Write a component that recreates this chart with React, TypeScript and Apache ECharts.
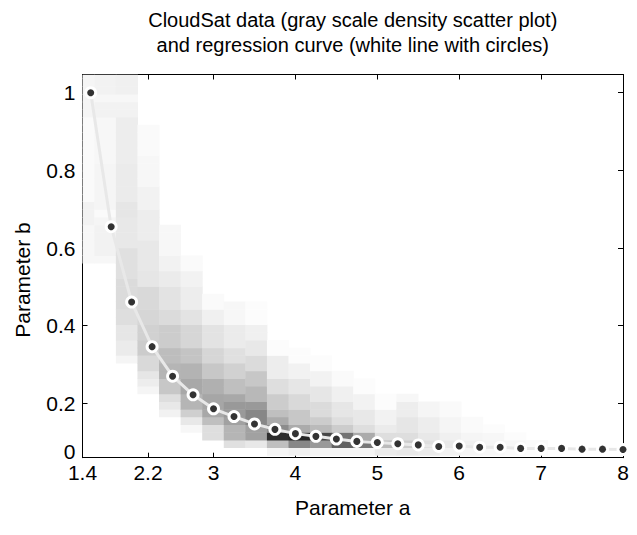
import React, { useEffect, useRef } from "react";
import * as echarts from "echarts";

// Regression curve (Parameter a, Parameter b)
const regA = [1.5, 1.75, 2.0, 2.25, 2.5, 2.75, 3.0, 3.25, 3.5, 3.75, 4.0, 4.25, 4.5, 4.75, 5.0, 5.25, 5.5, 5.75, 6.0, 6.25, 6.5, 6.75, 7.0, 7.25, 7.5, 7.75, 8.0];
const regB = [1.0, 0.655, 0.461, 0.346, 0.27, 0.222, 0.186, 0.166, 0.147, 0.133, 0.122, 0.115, 0.108, 0.102, 0.099, 0.096, 0.093, 0.089, 0.09, 0.087, 0.087, 0.084, 0.084, 0.084, 0.082, 0.082, 0.081];

// Density histogram bins
const binX0 = 1.2805;
const binDX = 0.2635;
const binY0 = 0.0662;
const binDY = 0.0198;

// For each a-bin: first b-bin index, then density (0-100) going up in b
const densityStartRow = [25, 25, 12, 8, 5, 3, 2, 1, 1, 0, 0, 0, 0, 0, 0, 0, 0, 0, 0, 0, 0, 0];
const densityCols = [
  [3, 3, 3, 3, 3, 5, 5, 5, 2, 2, 2, 2, 2, 2, 2, 2, 2, 2, 2, 4, 4, 4, 4, 4, 4],
  [3, 5, 5, 5, 5, 4, 2, 4, 4, 4, 4, 4, 4, 3, 3, 3, 3, 3, 3, 5, 5, 3, 5, 5, 5],
  [4, 8, 8, 10, 10, 13, 13, 14, 14, 14, 14, 12, 12, 12, 12, 9, 9, 9, 9, 10, 10, 8, 8, 8, 8, 8, 7, 7, 7, 7, 7, 7, 5, 5, 3, 6, 6, 6],
  [4, 7, 10, 15, 15, 20, 20, 18, 18, 16, 16, 15, 15, 15, 10, 10, 9, 9, 9, 9, 7, 7, 7, 7, 5, 5, 5, 3, 3, 3, 3, 2, 2, 2, 2],
  [5, 9, 13, 22, 22, 29, 29, 26, 26, 20, 20, 20, 14, 14, 11, 11, 11, 8, 8, 5, 5, 3, 3, 3, 3],
  [3, 9, 19, 29, 29, 34, 34, 30, 30, 23, 23, 16, 16, 16, 11, 11, 7, 7, 7, 5, 5, 2, 2],
  [13, 13, 25, 34, 35, 35, 31, 31, 22, 22, 16, 16, 11, 11, 11, 6, 6, 2, 2],
  [12, 29, 29, 37, 40, 40, 34, 25, 25, 18, 18, 12, 12, 8, 8, 8, 3, 3, 3],
  [9, 37, 37, 47, 47, 40, 28, 28, 22, 22, 14, 14, 9, 9, 6, 6, 1, 1, 1],
  [4, 25, 82, 45, 33, 25, 20, 20, 13, 13, 7, 7, 7, 1, 1],
  [6, 47, 85, 33, 22, 22, 15, 15, 10, 10, 5, 5, 1, 1],
  [4, 40, 72, 27, 20, 14, 14, 10, 10, 5, 5, 1, 1],
  [4, 62, 55, 20, 13, 10, 10, 6, 6, 2, 2],
  [4, 53, 33, 13, 9, 9, 5, 5, 1, 1],
  [8, 27, 13, 8, 5, 5, 1, 1],
  [9, 20, 13, 10, 10, 7, 7, 3],
  [8, 13, 9, 7, 7, 4, 4],
  [5, 9, 6, 4, 4, 2, 2],
  [4, 6, 4, 2, 2],
  [3, 4, 3, 1],
  [2, 3, 1],
  [1, 2],
];

// Axis ranges and ticks (the bottom corner of the b axis carries the "0" label)
const aMin = 1.4;
const aMax = 8;
const bMin = 0.06;
const bMax = 1.047;
const xTicks = [1.4, 2.2, 3, 4, 5, 6, 7, 8];
const yTickValues = [0.2, 0.4, 0.6, 0.8, 1];
const yLabelValues = [0.077, 0.2, 0.4, 0.6, 0.8, 1];
const yLabelTexts = ["0", "0.2", "0.4", "0.6", "0.8", "1"];

const titleLines = [
  "CloudSat data (gray scale density scatter plot)",
  "and regression curve (white line with circles)",
];
const xName = "Parameter a";
const yName = "Parameter b";

const FONT = "'Liberation Sans', Arial, Helvetica, sans-serif";

export default function App() {
  const ref = useRef<HTMLDivElement>(null);
  useEffect(() => {
    if (!ref.current) return;
    const chart = echarts.init(ref.current, null, { renderer: "svg" });

    const cells: number[][] = [];
    densityCols.forEach((col, c) => {
      col.forEach((d, i) => {
        if (d > 0) cells.push([c, densityStartRow[c] + i, d]);
      });
    });

    const GL = 82.5, GT = 74.5, GR = 623, GB = 457.7;
    const W = 637, H = 535;
    const axisStyle = { lineStyle: { color: "#000", width: 1 } };
    const labelStyle = { color: "#000", fontSize: 21, lineHeight: 18, fontFamily: FONT };

    const option: any = {
      animation: false,
      backgroundColor: "#fff",
      grid: { left: GL, top: GT, right: W - GR, bottom: H - GB, containLabel: false },
      xAxis: [
        {
          type: "value", min: aMin, max: aMax, position: "bottom",
          axisLine: { show: true, onZero: false, ...axisStyle },
          axisTick: { show: true, inside: true, length: 5, customValues: xTicks, lineStyle: { color: "#000" } },
          axisLabel: { show: true, customValues: xTicks, margin: 6, formatter: (v: number) => String(v), ...labelStyle },
          splitLine: { show: false },
        },
        {
          type: "value", min: aMin, max: aMax, position: "top",
          axisLine: { show: true, onZero: false, ...axisStyle },
          axisTick: { show: true, inside: true, length: 5, customValues: xTicks, lineStyle: { color: "#000" } },
          axisLabel: { show: false },
          splitLine: { show: false },
        },
      ],
      yAxis: [
        {
          type: "value", min: bMin, max: bMax, position: "left",
          axisLine: { show: true, onZero: false, ...axisStyle },
          axisTick: { show: true, inside: true, length: 5, customValues: yTickValues, lineStyle: { color: "#000" } },
          axisLabel: {
            show: true, customValues: yLabelValues, margin: 7,
            formatter: (v: number) => {
              const i = yLabelValues.findIndex((t) => Math.abs(t - v) < 1e-6);
              return i >= 0 ? yLabelTexts[i] : String(v);
            },
            ...labelStyle,
          },
          splitLine: { show: false },
        },
        {
          type: "value", min: bMin, max: bMax, position: "right",
          axisLine: { show: true, onZero: false, ...axisStyle },
          axisTick: { show: true, inside: true, length: 5, customValues: yTickValues, lineStyle: { color: "#000" } },
          axisLabel: { show: false },
          splitLine: { show: false },
        },
      ],
      graphic: [
        {
          type: "text", x: (GL + GR) / 2, y: 20,
          style: { text: titleLines[0], fontSize: 20, fontFamily: FONT, fill: "#000", textAlign: "center", textVerticalAlign: "middle" },
        },
        {
          type: "text", x: (GL + GR) / 2, y: 45,
          style: { text: titleLines[1], fontSize: 20, fontFamily: FONT, fill: "#000", textAlign: "center", textVerticalAlign: "middle" },
        },
        {
          type: "text", x: (GL + GR) / 2, y: 507,
          style: { text: xName, fontSize: 21, fontFamily: FONT, fill: "#000", textAlign: "center", textVerticalAlign: "middle" },
        },
        {
          type: "text", x: 22, y: 280, rotation: Math.PI / 2,
          style: { text: yName, fontSize: 21, fontFamily: FONT, fill: "#000", textAlign: "center", textVerticalAlign: "middle" },
        },
      ],
      series: [
        {
          type: "custom",
          xAxisIndex: 0, yAxisIndex: 0,
          clip: true,
          z: 1,
          data: cells,
          encode: { x: 0, y: 1 },
          renderItem: (params: any, api: any) => {
            const c = api.value(0);
            const r = api.value(1);
            const d = api.value(2);
            const x0 = binX0 + c * binDX;
            const y0 = binY0 + r * binDY;
            const p0 = api.coord([x0, y0]);
            const p1 = api.coord([x0 + binDX, y0 + binDY]);
            const g = Math.round(255 * (1 - d / 100));
            const shape = echarts.graphic.clipRectByRect(
              { x: p0[0], y: p1[1], width: p1[0] - p0[0] + 0.5, height: p0[1] - p1[1] + 0.5 },
              { x: params.coordSys.x, y: params.coordSys.y, width: params.coordSys.width, height: params.coordSys.height }
            );
            if (!shape) return null;
            return {
              type: "rect",
              shape,
              style: { fill: `rgb(${g},${g},${g})` },
            };
          },
        },
        {
          type: "line",
          xAxisIndex: 0, yAxisIndex: 0,
          z: 3,
          data: regA.map((a, i) => [a, regB[i]]),
          lineStyle: { color: "#e8e8e8", width: 3 },
          symbol: "circle",
          symbolSize: 13,
          showAllSymbol: true,
          itemStyle: { color: "#ffffff", borderWidth: 0 },
          emphasis: { disabled: true },
        },
        {
          type: "scatter",
          xAxisIndex: 0, yAxisIndex: 0,
          z: 4,
          data: regA.map((a, i) => [a, regB[i]]),
          symbol: "circle",
          symbolSize: 7,
          itemStyle: { color: "#000" },
          emphasis: { disabled: true },
        },
      ],
    };
    chart.setOption(option);
    return () => chart.dispose();
  }, []);
  return (
    <div
      ref={ref}
      style={{ position: "fixed", left: 0, top: 0, width: 637, height: 535, background: "#fff" }}
    />
  );
}
